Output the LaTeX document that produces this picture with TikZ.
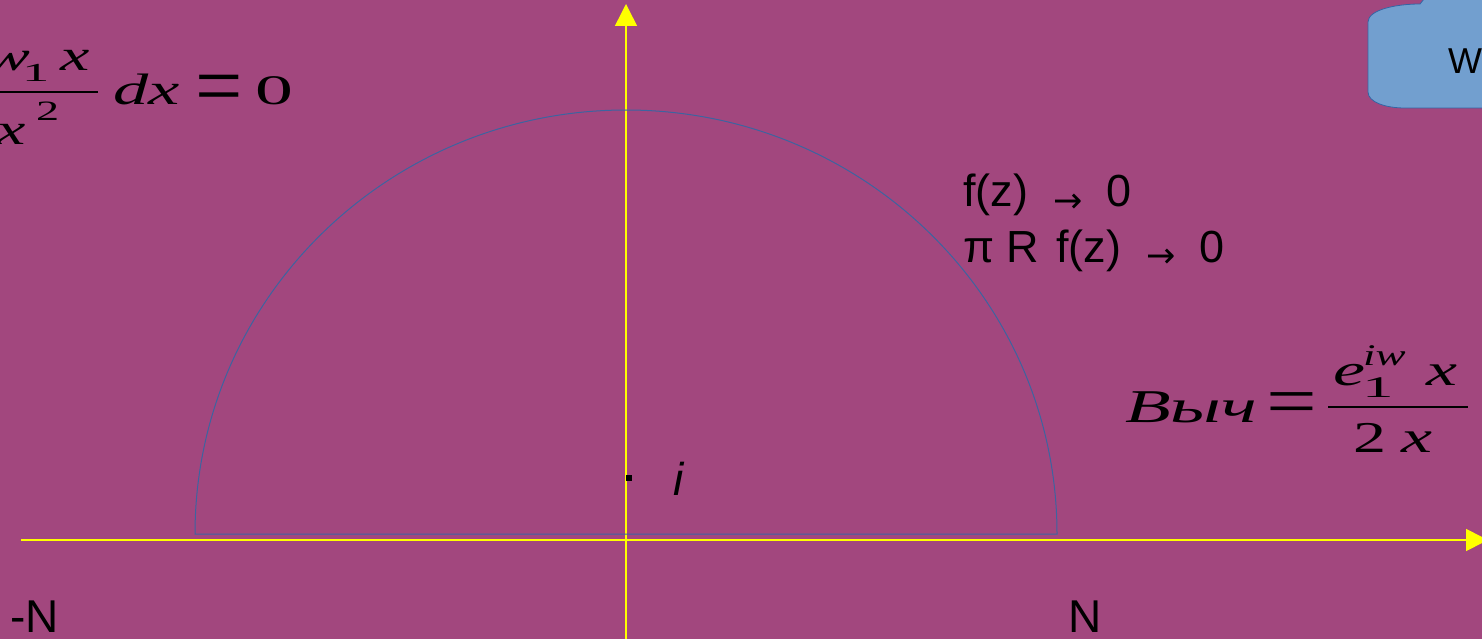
\documentclass[tikz,border=0pt]{standalone}
\usepackage{fontspec}
\usepackage{graphicx}
\setmainfont{Liberation Sans}
\newfontfamily\mserif{Liberation Serif}
\newfontfamily\djv{DejaVu Sans}
\usetikzlibrary{arrows.meta}
\definecolor{bg}{RGB}{162,71,126}
\definecolor{arcblue}{RGB}{60,100,160}
\definecolor{boxfill}{RGB}{114,159,207}
\definecolor{boxline}{RGB}{52,101,164}
\definecolor{axisyellow}{RGB}{255,255,0}
\newcommand\pc[4]{\scalebox{#1}[1]{\fontsize{#2}{#2}\selectfont\mserif#3#4}}
\begin{document}
\begin{tikzpicture}[x=1pt,y=-1pt,
  txt/.style={anchor=base west,inner sep=0pt,outer sep=0pt},
  sans/.style={txt,font=\fontsize{45}{45}\selectfont},
  arrowtxt/.style={txt,font=\djv\fontsize{35}{35}\selectfont},
  axis/.style={axisyellow,line width=1.5pt},
  fracbar/.style={black,line width=2.6pt}]
\fill[bg] (0,0) rectangle (1482,639);
\useasboundingbox (0,0) rectangle (1482,639);

% axes
\coordinate (xl) at (21,540);
\coordinate (xr) at (1488,540);
\coordinate (yb) at (626,645);
\coordinate (yt) at (626,4);
\draw[axis,-{Triangle[width=22pt,length=22pt]}] (xl) -- (xr);
\draw[axis,-{Triangle[width=22pt,length=22pt]}] (yb) -- (yt);

% contour
\draw[arcblue,line width=1pt] (1057,534) arc[start angle=0,end angle=-180,x radius=431,y radius=424] -- cycle;

% pole
\fill[black] (626,475) rectangle (632,481);
\node[txt,font=\itshape\fontsize{46}{46}\selectfont] (ii) at (673,495) {i};

% callout box
\draw[boxline,fill=boxfill,line width=0.8pt] (1368,22) .. controls (1368,10) and (1395,4) .. (1420,4)
  -- (1428,-6) -- (1500,-6) -- (1500,108) -- (1405,108)
  .. controls (1385,108) and (1368,102) .. (1368,92) -- cycle;
\node[txt,font=\fontsize{36}{36}\selectfont] (W) at (1448,74) {W};

% limits text
\node[sans] (fz1) at (963,207) {f(z)};
\node[arrowtxt] (ar1) at (1053,212) {→};
\node[sans] (z1) at (1106,207) {0};
\node[sans] (pi) at (963,262) {π};
\node[sans] (R) at (1006,262) {R};
\node[sans] (fz2) at (1056,262) {f(z)};
\node[arrowtxt] (ar2) at (1146,267) {→};
\node[sans] (z2) at (1199,262) {0};

% axis labels
\node[txt,font=\fontsize{46}{46}\selectfont] (mN) at (10,632) {-N};
\node[txt,font=\fontsize{46}{46}\selectfont] (N) at (1068,632) {N};

% left formula
\node[txt] (lw) at (-14,71) {\pc{1.6}{42}{\itshape}{w}};
\node[txt] (l1) at (22,82) {\pc{2.1}{26}{\upshape}{1}};
\node[txt] (lxn) at (60,71) {\pc{1.5}{44}{\itshape}{x}};
\coordinate (lb1) at (-20,92);
\coordinate (lb2) at (98,92);
\draw[fracbar] (lb1) -- (lb2);
\node[txt] (lxd) at (-3,145) {\pc{1.5}{44}{\itshape}{x}};
\node[txt] (l2) at (36,121) {\pc{1.65}{28}{\upshape}{2}};
\node[txt] (ldx) at (113,105) {\pc{1.6}{44}{\itshape}{dx}};
\node[txt] (leq) at (195,105) {\raisebox{-11pt}{\scalebox{2}[2.1]{\fontsize{42}{42}\selectfont\mserif =}}};
\node[txt] (l0) at (255,105) {\pc{1.8}{42}{\upshape}{0}};

% right formula
\node[txt] (vych) at (1125,422) {\resizebox{132pt}{\height}{\fontsize{47}{47}\selectfont\mserif\itshape Выч}};
\node[txt] (req) at (1266,422) {\raisebox{-3.6pt}{\scalebox{2}[1.6]{\fontsize{45}{45}\selectfont\mserif =}}};
\node[txt] (re) at (1333,385) {\pc{1.6}{45}{\itshape}{e}};
\node[txt] (riw) at (1363,365) {\pc{1.5}{30}{\itshape}{iw}};
\node[txt] (r1) at (1362,397) {\pc{2.1}{30}{\upshape}{1}};
\node[txt] (rxn) at (1426,385) {\pc{1.55}{45}{\itshape}{x}};
\coordinate (rb1) at (1328,407);
\coordinate (rb2) at (1468,407);
\draw[fracbar] (rb1) -- (rb2);
\node[txt] (r2) at (1353,452) {\pc{1.5}{44}{\upshape}{2}};
\node[txt] (rxd) at (1401,452) {\pc{1.55}{45}{\itshape}{x}};
\end{tikzpicture}
\end{document}
